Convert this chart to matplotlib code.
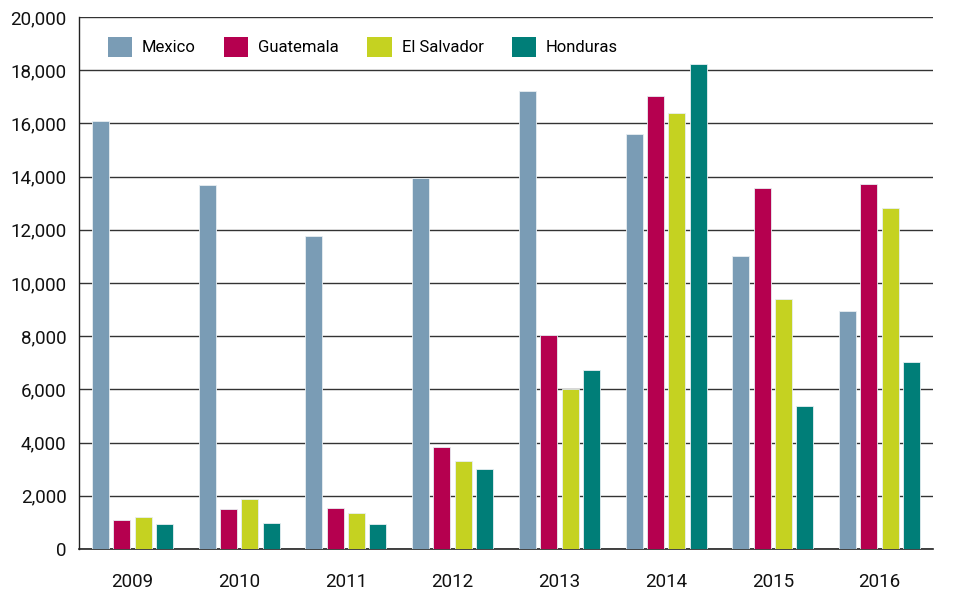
import matplotlib
matplotlib.use("Agg")
import matplotlib.pyplot as plt
import numpy as np
from matplotlib.ticker import FuncFormatter

plt.rcParams['font.family'] = ['Roboto', 'DejaVu Sans']

years = ["2009", "2010", "2011", "2012", "2013", "2014", "2015", "2016"]
series_names = ["Mexico", "Guatemala", "El Salvador", "Honduras"]
mexico = [16100, 13680, 11770, 13960, 17220, 15610, 11010, 8960]
guatemala = [1090, 1490, 1540, 3835, 8060, 17040, 13570, 13720]
el_salvador = [1190, 1880, 1365, 3310, 6000, 16390, 9385, 12810]
honduras = [940, 990, 940, 2995, 6720, 18230, 5390, 7030]
colors = ["#7a9cb5", "#b5004f", "#c5d221", "#007e78"]

fig = plt.figure(figsize=(9.57, 5.96), dpi=100)
ax = fig.add_axes([79/957, 47/596, (933-79)/957, (549-17)/596])

x = np.arange(len(years))
width = 0.16
pitch = 0.2
for i, (vals, name, c) in enumerate(zip([mexico, guatemala, el_salvador, honduras], series_names, colors)):
    ax.bar(x + (i - 1.5) * pitch, vals, width=width, color=c, edgecolor="#e8eef2",
           linewidth=0.6, label=name, zorder=3)

ax.set_xlim(-0.5, 7.5)
ax.set_ylim(0, 20000)
ax.set_yticks(np.arange(0, 20001, 2000))
ax.yaxis.set_major_formatter(FuncFormatter(lambda v, p: f"{int(v):,}"))
ax.set_xticks(x)
ax.set_xticklabels(years)
ax.tick_params(axis='both', length=0, labelsize=13.5, colors="#111111")
ax.tick_params(axis='y', pad=9)
ax.tick_params(axis='x', pad=17)
ax.grid(axis='y', color="#333333", linewidth=1.0, zorder=0)
ax.spines["right"].set_visible(False)
ax.spines["top"].set_visible(False)
ax.spines["left"].set_color("#222222")
ax.spines["bottom"].set_color("#222222")
ax.spines["left"].set_linewidth(1.0)
ax.spines["bottom"].set_linewidth(1.2)

leg = ax.legend(loc="upper left", bbox_to_anchor=(0.02, 0.985), ncol=4, frameon=False,
                fontsize=12, handlelength=1.45, handleheight=1.5, handletextpad=0.6,
                columnspacing=1.7, borderaxespad=0.3)
for h in leg.legend_handles:
    h.set_edgecolor("none")

fig.savefig("out.png", dpi=100, facecolor="white")
